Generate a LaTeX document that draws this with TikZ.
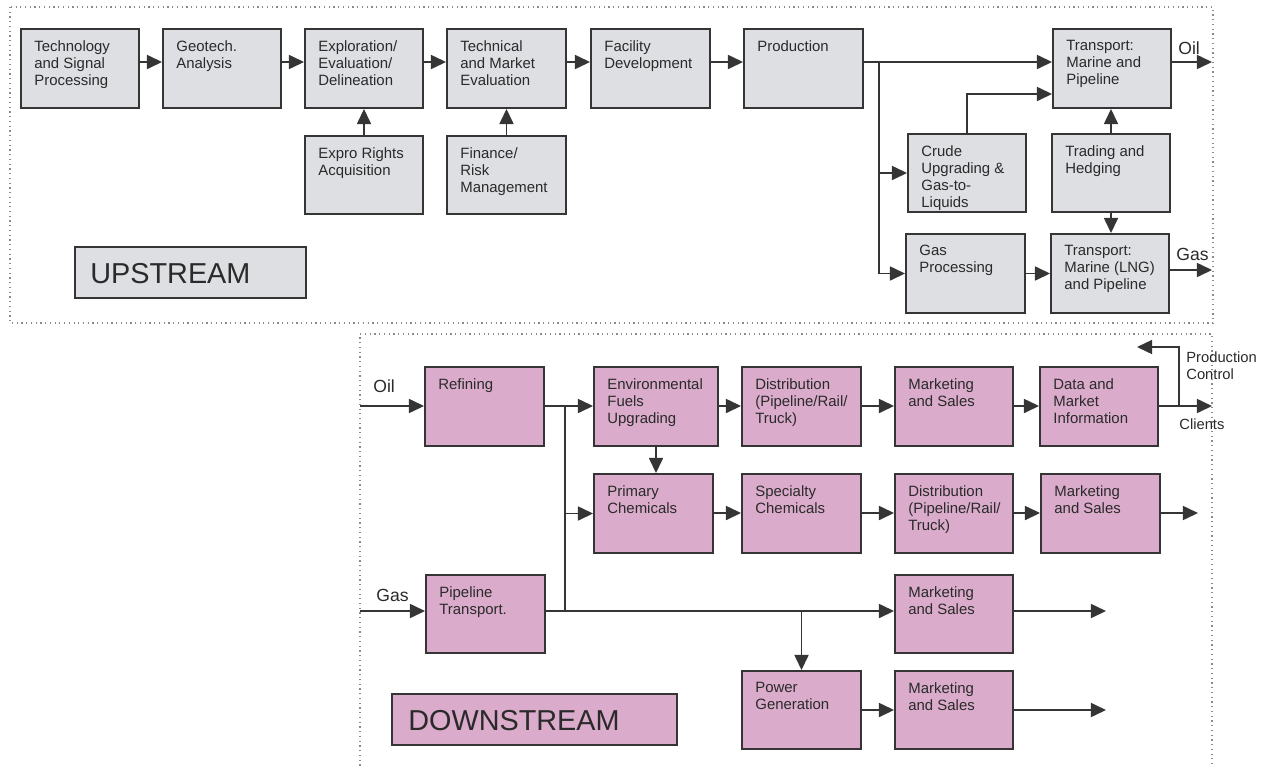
\documentclass[tikz,border=0pt]{standalone}
\usepackage{fontspec}
\setmainfont{Liberation Sans}
\usetikzlibrary{arrows.meta,fit,calc}
\definecolor{upfill}{HTML}{DEDFE3}
\definecolor{dnfill}{HTML}{DAABCA}
\definecolor{edge}{HTML}{353535}
\definecolor{txt}{HTML}{2A2A2A}
\definecolor{frame}{HTML}{8A8A8A}
\tikzset{
  ubox/.style={draw=edge, line width=1.1pt, fill=upfill, inner sep=0pt},
  dbox/.style={draw=edge, line width=1.1pt, fill=dnfill, inner sep=0pt},
  boxtxt/.style={font=\fontsize{8.5}{9.7}\selectfont, align=left, inner sep=0pt, text=txt},
  lbl/.style={font=\fontsize{10}{12}\selectfont, inner sep=0pt, text=txt, anchor=base west},
  slbl/.style={font=\fontsize{8.4}{9.7}\selectfont, inner sep=0pt, text=txt, anchor=base west},
  bigtxt/.style={font=\fontsize{16.4}{19}\selectfont, inner sep=0pt, text=txt, anchor=base west},
  arr/.style={draw=edge, line width=0.95pt, -{Triangle[length=8.6pt,width=8pt]}},
  ln/.style={draw=edge, line width=0.95pt},
  outer/.style={draw=frame, dotted, line width=0.7pt}
}
\newcommand{\mybox}[7]{%
  \node[#1, fit={(#3,#4)(#5,#6)}] (#2) {};
  \node[boxtxt, anchor=north west] at ([xshift=0.28cm, yshift=-0.24cm]#2.north west) {#7};
}
\begin{document}
\begin{tikzpicture}[x=0.02cm,y=-0.02cm]
\useasboundingbox (0,0) rectangle (1261,765);
% outer frames
\draw[outer] (10,7) rectangle (1213,323);
\draw[outer] (360,775) -- (360,334) -- (1212,334) -- (1212,775);

% ---------------- UPSTREAM ----------------
\mybox{ubox}{tech}{21}{29}{139}{108}{Technology\\and Signal\\Processing}
\mybox{ubox}{geo}{163}{29}{281}{108}{Geotech.\\Analysis}
\mybox{ubox}{expl}{305}{29}{423}{108}{Exploration/\\Evaluation/\\Delineation}
\mybox{ubox}{expro}{305}{136}{423}{214}{Expro Rights\\Acquisition}
\mybox{ubox}{tme}{447}{29}{566}{108}{Technical\\and Market\\Evaluation}
\mybox{ubox}{fin}{447}{136}{566}{214}{Finance/\\Risk\\Management}
\mybox{ubox}{fac}{591}{29}{710}{108}{Facility\\Development}
\mybox{ubox}{prod}{744}{29}{863}{108}{Production}
\mybox{ubox}{trO}{1053}{29}{1171}{108}{Transport:\\Marine and\\Pipeline}
\mybox{ubox}{crude}{908}{134}{1026}{212}{Crude\\Upgrading \&\\Gas-to-\\Liquids}
\mybox{ubox}{trad}{1052}{134}{1170}{212}{Trading and\\Hedging}
\mybox{ubox}{gasp}{906}{234}{1025}{313}{Gas\\Processing}
\mybox{ubox}{trG}{1051}{234}{1169}{313}{Transport:\\Marine (LNG)\\and Pipeline}
\node[ubox, fit={(75,247)(306,298)}] (upl) {};
\node[bigtxt] at (90,283) {UPSTREAM};

\coordinate (r1) at (0,62);
\coordinate (bx) at (879,62);
\coordinate (c94) at (968,94);
\coordinate (oilend) at (1212,62);
\coordinate (gasend) at (1212,270);
\draw[arr] (tech.east |- r1) -- (geo.west |- r1);
\draw[arr] (geo.east |- r1) -- (expl.west |- r1);
\draw[arr] (expl.east |- r1) -- (tme.west |- r1);
\draw[arr] (tme.east |- r1) -- (fac.west |- r1);
\draw[arr] (fac.east |- r1) -- (prod.west |- r1);
\draw[arr] (prod.east |- r1) -- (trO.west |- r1);
\draw[arr] (expro.north) -- (expl.south);
\draw[arr] (fin.north) -- (tme.south);
\draw[arr] (bx) |- (crude.west);
\draw[arr] (bx) |- (gasp.west);
\draw[arr] (crude.north) |- (trO.west |- c94);
\draw[arr] (trad.north) -- (trad.north |- trO.south);
\draw[arr] (trad.south) -- (trad.south |- trG.north);
\draw[arr] (gasp.east) -- (trG.west |- gasp.east);
\draw[arr] (trO.east |- r1) -- (oilend);
\draw[arr] (trG.east |- gasend) -- (gasend);
\node[lbl] at (1178,54) {Oil};
\node[lbl] at (1176,260) {Gas};

% ---------------- DOWNSTREAM ----------------
\mybox{dbox}{ref}{425}{367}{544}{446}{Refining}
\mybox{dbox}{env}{594}{367}{718}{446}{Environmental\\Fuels\\Upgrading}
\mybox{dbox}{dA}{742}{367}{861}{446}{Distribution\\(Pipeline/Rail/\\Truck)}
\mybox{dbox}{mA}{895}{367}{1013}{446}{Marketing\\and Sales}
\mybox{dbox}{data}{1040}{367}{1158}{446}{Data and\\Market\\Information}
\mybox{dbox}{prim}{594}{474}{713}{553}{Primary\\Chemicals}
\mybox{dbox}{spec}{742}{474}{861}{553}{Specialty\\Chemicals}
\mybox{dbox}{dB}{895}{474}{1013}{553}{Distribution\\(Pipeline/Rail/\\Truck)}
\mybox{dbox}{mB}{1041}{474}{1160}{553}{Marketing\\and Sales}
\mybox{dbox}{pipe}{426}{575}{545}{653}{Pipeline\\Transport.}
\mybox{dbox}{mC}{895}{575}{1013}{653}{Marketing\\and Sales}
\mybox{dbox}{pow}{742}{671}{861}{749}{Power\\Generation}
\mybox{dbox}{mD}{895}{671}{1013}{749}{Marketing\\and Sales}
\node[dbox, fit={(392,694)(677,745)}] (dnl) {};
\node[bigtxt] at (408,730) {DOWNSTREAM};

\coordinate (oilin) at (360,406);
\coordinate (gasin) at (360,611);
\coordinate (t1) at (565,406);
\coordinate (t2) at (565,611);
\coordinate (outA) at (1212,406);
\coordinate (brk) at (1179,406);
\coordinate (pc) at (1137,347);
\coordinate (outB) at (1198,513);
\coordinate (outC) at (1106,611);
\coordinate (outD) at (1106,710);
\draw[arr] (oilin) -- (ref.west |- oilin);
\draw[arr] (ref.east |- oilin) -- (env.west |- oilin);
\draw[ln] (t1) -- (t2);
\draw[arr] (t1 |- prim.west) -- (prim.west);
\draw[arr] (gasin) -- (pipe.west |- gasin);
\draw[arr] (pipe.east |- gasin) -- (mC.west |- gasin);
\draw[arr] (pow.north |- gasin) -- (pow.north);
\draw[arr] (env.south) -- (env.south |- prim.north);
\draw[arr] (env.east |- oilin) -- (dA.west |- oilin);
\draw[arr] (dA.east |- oilin) -- (mA.west |- oilin);
\draw[arr] (mA.east |- oilin) -- (data.west |- oilin);
\draw[arr] (data.east |- oilin) -- (outA);
\draw[arr] (brk) |- (pc);
\draw[arr] (prim.east |- outB) -- (spec.west |- outB);
\draw[arr] (spec.east |- outB) -- (dB.west |- outB);
\draw[arr] (dB.east |- outB) -- (mB.west |- outB);
\draw[arr] (mB.east |- outB) -- (outB);
\draw[arr] (mC.east |- outC) -- (outC);
\draw[arr] (pow.east |- outD) -- (mD.west |- outD);
\draw[arr] (mD.east |- outD) -- (outD);
\node[lbl] at (373,392) {Oil};
\node[lbl] at (376,601) {Gas};
\node[slbl] at (1186,362) {Production};
\node[slbl] at (1186,379) {Control};
\node[slbl] at (1179,429) {Clients};
\end{tikzpicture}
\end{document}
